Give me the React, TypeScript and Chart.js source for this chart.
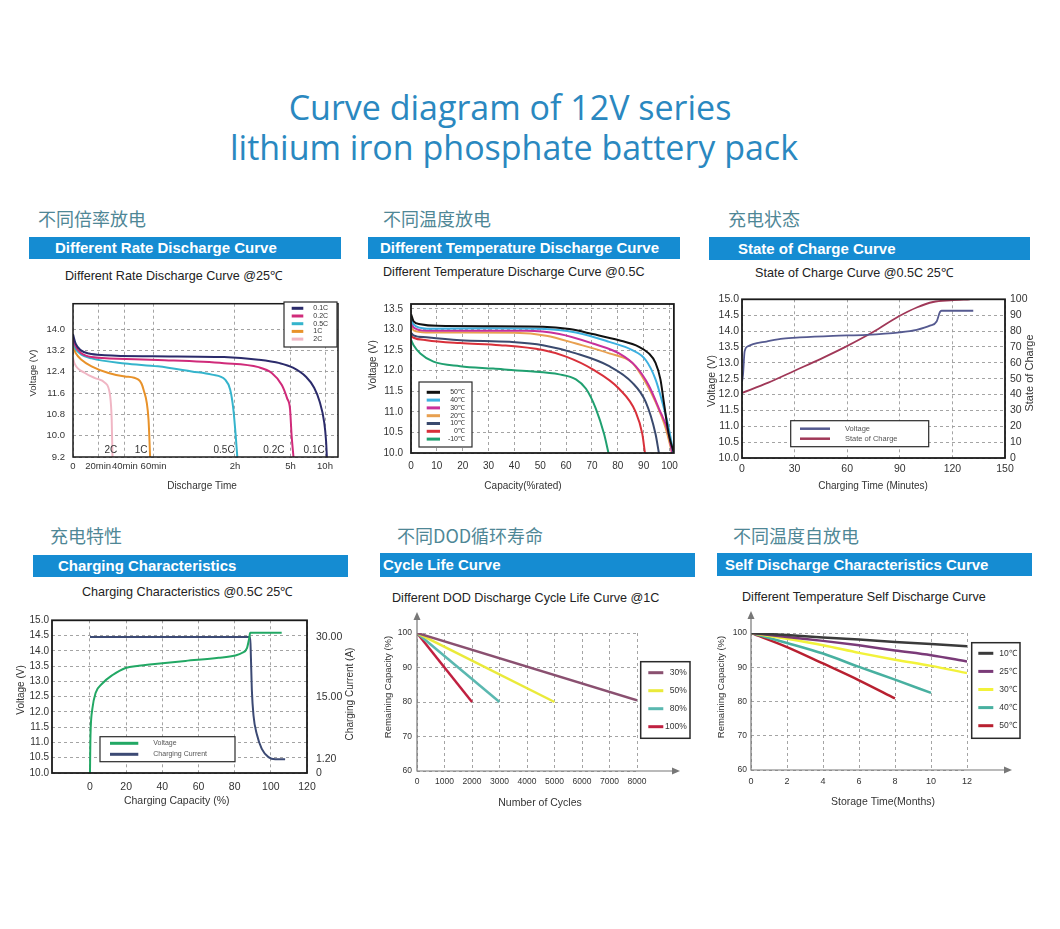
import React, { useEffect, useRef } from "react";
import { Chart, registerables } from "chart.js";

Chart.register(...registerables);

const FONT = "'Liberation Sans', Arial, Helvetica, sans-serif";
Chart.defaults.font.family = FONT;
Chart.defaults.color = "#333";

type Pt = [number, number];

// ---------------- Panel 1: Different Rate Discharge ----------------
const rateTickPos = [0, 9.5, 19.6, 30.4, 61.1, 82.1, 95.1];
const rateTickLabels = ["0", "20min", "40min", "60min", "2h", "5h", "10h"];
const rateVoltTicks = [9.2, 10.0, 10.8, 11.6, 12.4, 13.2, 14.0];
const rateNames = ["0.1C", "0.2C", "0.5C", "1C", "2C"];
const rateColors = ["#2b2b6b", "#d02b7a", "#35b4cc", "#e8922a", "#f0b6c4"];
const rate01C: Pt[] = [[0, 13.8], [1, 13.45], [3, 13.2], [6, 13.08], [12, 13.02], [30, 12.98], [57, 12.95], [70, 12.85], [78, 12.72], [83, 12.55], [88, 12.2], [91, 11.8], [93, 11.3], [94.8, 10.5], [95.5, 9.8], [95.8, 9.2]];
const rate02C: Pt[] = [[0, 13.65], [1, 13.35], [3, 13.1], [7, 12.95], [20, 12.88], [32, 12.84], [57, 12.72], [70, 12.57], [75, 12.35], [78.8, 11.9], [80.8, 11.4], [81.9, 11.0], [82.5, 10.0], [83.2, 9.2]];
const rate05C: Pt[] = [[0, 13.5], [1, 13.25], [3, 13.05], [7, 12.9], [19.6, 12.71], [32, 12.6], [44.8, 12.41], [52.4, 12.29], [57.4, 12.1], [59.3, 11.73], [60.5, 11.0], [61.4, 10.0], [62, 9.2]];
const rate1C: Pt[] = [[0, 13.35], [1, 13.1], [3.3, 12.84], [7, 12.6], [13.4, 12.35], [19.6, 12.22], [24.7, 12.1], [26.6, 11.73], [28.5, 10.6], [29.1, 9.2]];
const rate2C: Pt[] = [[0, 12.9], [0.6, 12.7], [4.5, 12.35], [8.3, 12.16], [12.1, 11.98], [14, 11.5], [14.6, 10.6], [14.9, 9.2]];
const rateEndLabels = ["2C", "1C", "0.5C", "0.2C", "0.1C"];
const rateEndLabelPos = [14.3, 25.7, 57, 75.8, 91];
const rateEndLabelVolt = 9.45;

// ---------------- Panel 2: Different Temperature Discharge ----------------
const capTicks = [0, 10, 20, 30, 40, 50, 60, 70, 80, 90, 100];
const tempVoltTicks = [10.0, 10.5, 11.0, 11.5, 12.0, 12.5, 13.0, 13.5];
const tempNames = ["50℃", "40℃", "30℃", "20℃", "10℃", "0℃", "-10℃"];
const tempColors = ["#111111", "#3db0e0", "#c8309c", "#e8a050", "#3a4a6e", "#d8303a", "#20a070"];
const temp50: Pt[] = [[0, 13.38], [1, 13.2], [3.6, 13.13], [10, 13.09], [30, 13.08], [51, 13.07], [61.3, 13.01], [70.3, 12.89], [80.5, 12.74], [88.2, 12.58], [92, 12.42], [94.6, 12.19], [96.5, 11.79], [97.8, 11.24], [99.7, 10.46], [101.7, 10.0]];
const temp40: Pt[] = [[0, 13.3], [1, 13.12], [6.2, 13.02], [30, 13.03], [50, 13.02], [63.8, 12.93], [76.7, 12.7], [85.6, 12.5], [90.8, 12.26], [94.6, 11.79], [97.2, 11.24], [99.7, 10.61], [101.5, 10.0]];
const temp30: Pt[] = [[0, 13.2], [1, 13.05], [6, 12.97], [44.6, 12.97], [57.4, 12.89], [70.3, 12.66], [80.5, 12.42], [86.9, 12.11], [92, 11.64], [95.9, 11.08], [99.7, 10.46], [101, 10.0]];
const temp20: Pt[] = [[0, 13.1], [1, 12.98], [6, 12.93], [40, 12.92], [52.3, 12.85], [63.8, 12.66], [76.7, 12.42], [85.6, 12.19], [90.8, 11.71], [94.6, 11.24], [98.5, 10.61], [101, 10.0]];
const temp10: Pt[] = [[0, 12.92], [1, 12.86], [6, 12.81], [19, 12.74], [38.2, 12.7], [51, 12.62], [63.8, 12.42], [76.7, 12.11], [85.6, 11.71], [90.8, 11.24], [94.6, 10.46], [95.9, 10.0]];
const temp0: Pt[] = [[0, 12.85], [1, 12.8], [6, 12.74], [19, 12.67], [34.4, 12.62], [51, 12.5], [60, 12.34], [70.3, 12.03], [80.5, 11.56], [86.9, 11.0], [89.5, 10.46], [90.5, 10.0]];
const tempM10: Pt[] = [[0, 12.75], [1, 12.62], [3.6, 12.42], [8.7, 12.22], [19, 12.11], [31.8, 12.05], [44.6, 11.99], [57.4, 11.91], [63.8, 11.79], [67.7, 11.56], [71.5, 11.08], [74.7, 10.46], [76.4, 10.0]];

// ---------------- Panel 3: State of Charge ----------------
const socTimeTicks = [0, 30, 60, 90, 120, 150];
const socVoltTicks = [10.0, 10.5, 11.0, 11.5, 12.0, 12.5, 13.0, 13.5, 14.0, 14.5, 15.0];
const socPctTicks = [0, 10, 20, 30, 40, 50, 60, 70, 80, 90, 100];
const socNames = ["Voltage", "State of Charge"];
const socColors = ["#555a90", "#a03858"];
const socVoltage: Pt[] = [[0, 12.4], [0.6, 12.64], [1.5, 13.36], [3.4, 13.52], [6.3, 13.59], [13.9, 13.67], [23.4, 13.76], [32.9, 13.8], [52, 13.85], [71, 13.88], [90, 13.96], [99.6, 14.04], [107.2, 14.17], [111, 14.3], [112.9, 14.6], [113.8, 14.64], [131.9, 14.64]];
const socState: Pt[] = [[0, 41], [15, 47.5], [30, 55], [45, 62.5], [59, 70], [75, 79.5], [89, 89], [100, 95], [109, 98.3], [119, 99.4], [130, 100]];

// ---------------- Panel 4: Charging Characteristics ----------------
const ccCapTicks = [0, 20, 40, 60, 80, 100, 120];
const ccVoltTicks = [10.0, 10.5, 11.0, 11.5, 12.0, 12.5, 13.0, 13.5, 14.0, 14.5, 15.0];
const ccCurrentTickAmps = [0, 1.2, 15, 30];
const ccCurrentTickLabels = ["0", "1.20", "15.00", "30.00"];
const ccCurrentTickLevel = [10.0, 10.45, 12.5, 14.45]; // non-linear right axis of the original
const ccNames = ["Voltage", "Charging Current"];
const ccColors = ["#22a864", "#3c4a74"];
const ccVoltage: Pt[] = [[0, 10.0], [0.2, 11.0], [0.4, 11.47], [1.3, 12.1], [3.1, 12.62], [6.8, 12.93], [12.3, 13.2], [19.7, 13.44], [27, 13.51], [34.4, 13.56], [52.8, 13.67], [71.1, 13.77], [80.3, 13.85], [84, 13.93], [86.8, 14.09], [88, 14.4], [88.6, 14.59], [106, 14.59]];
const ccCurrent: Pt[] = [[0, 30], [88.6, 30], [89, 24.8], [89.5, 16.7], [90.4, 10.9], [92.3, 6.65], [95, 3.49], [98.7, 1.67], [102.4, 1.2], [107.9, 1.2]];

// ---------------- Panel 5: Cycle Life ----------------
const cycleTicks = [0, 1000, 2000, 3000, 4000, 5000, 6000, 7000, 8000];
const remainTicks = [60, 70, 80, 90, 100];
const dodNames = ["30%", "50%", "80%", "100%"];
const dodColors = ["#8a5070", "#eaea3a", "#5ab8b0", "#c02040"];
const dod30: Pt[] = [[0, 100], [8000, 80.5]];
const dod50: Pt[] = [[0, 100], [5000, 80]];
const dod80: Pt[] = [[0, 100], [3000, 80]];
const dod100: Pt[] = [[0, 100], [2000, 80]];

// ---------------- Panel 6: Self Discharge ----------------
const monthTicks = [0, 2, 4, 6, 8, 10, 12];
const sdMonths = [0, 2, 4, 6, 8, 10, 12];
const sd10 = [100, 99.4, 98.7, 98.1, 97.4, 96.8, 96.1];
const sd25 = [100, 98.8, 97.7, 96.4, 94.9, 93.5, 91.7];
const sd30 = [100, 98.3, 96.4, 94.2, 92.2, 90.4, 88.3];
const sd40 = [100, 97.1, 94.0, 90.1, 86.4, 82.5];
const sd50 = [100, 95.9, 91.1, 86.2, 80.9];
const sdNames = ["10℃", "25℃", "30℃", "40℃", "50℃"];
const sdColors = ["#3a3a3a", "#7a3a78", "#f2f23a", "#48b0a0", "#b82030"];

// ---------------- helpers ----------------
const f1 = (v: number) => v.toFixed(1);

function ampsToLevel(a: number) {
  for (let i = 1; i < ccCurrentTickAmps.length; i++) {
    const a0 = ccCurrentTickAmps[i - 1], a1 = ccCurrentTickAmps[i];
    if (a <= a1 || i === ccCurrentTickAmps.length - 1) {
      const l0 = ccCurrentTickLevel[i - 1], l1 = ccCurrentTickLevel[i];
      return l0 + ((a - a0) / (a1 - a0)) * (l1 - l0);
    }
  }
  return ccCurrentTickLevel[0];
}

function line(label: string, color: string, pts: Pt[], width = 2, yAxisID = "y", smooth = true) {
  return {
    label,
    borderColor: color,
    backgroundColor: color,
    data: pts.map(([x, y]) => ({ x, y })),
    borderWidth: width,
    pointRadius: 0,
    fill: false,
    cubicInterpolationMode: smooth ? "monotone" : "default",
    tension: 0,
    yAxisID,
  };
}

function axis(o: any) {
  return {
    type: "linear",
    position: o.position,
    min: o.min,
    max: o.max,
    afterBuildTicks: (s: any) => {
      s.ticks = o.ticks.map((v: number) => ({ value: v }));
    },
    afterFit: (s: any) => {
      if (o.horizontal) s.height = o.fit;
      else s.width = o.fit;
    },
    ticks: {
      autoSkip: false,
      maxRotation: 0,
      minRotation: 0,
      padding: o.pad,
      color: "#333",
      font: { size: o.size, family: FONT },
      callback: (v: number, i: number) => (o.labels ? o.labels[i] : o.fmt ? o.fmt(v) : String(v)),
    },
    grid: { display: o.grid !== false, color: "#9a9a9a", lineWidth: 0.9, drawTicks: false },
    border: { display: false, dash: [3, 3] },
    title: { display: false },
  };
}

function baseOptions(pad: { top: number; right: number }, scales: any, plugins: any) {
  return {
    responsive: false,
    animation: false,
    events: [],
    layout: { padding: { top: pad.top, right: pad.right, left: 0, bottom: 0 } },
    plugins: { legend: { display: false }, tooltip: { enabled: false }, title: { display: false }, ...plugins },
    scales,
  };
}

// ---------------- plugins ----------------
const framePlugin = {
  id: "frame",
  afterDatasetsDraw(chart: any, _a: any, o: any) {
    const { ctx, chartArea: c } = chart;
    ctx.save();
    ctx.strokeStyle = o.color || "#1a1a1a";
    ctx.lineWidth = o.width || 1.6;
    ctx.strokeRect(c.left, c.top, c.right - c.left, c.bottom - c.top);
    ctx.restore();
  },
};

const arrowsPlugin = {
  id: "axisArrows",
  afterDatasetsDraw(chart: any, _a: any, o: any) {
    const { ctx, chartArea: c } = chart;
    const yTop = c.top - o.up;
    const xEnd = c.right + o.ext;
    ctx.save();
    ctx.strokeStyle = o.color;
    ctx.fillStyle = o.color;
    ctx.lineWidth = 1.2;
    ctx.beginPath();
    ctx.moveTo(c.left, yTop + 6);
    ctx.lineTo(c.left, c.bottom);
    ctx.lineTo(xEnd - 6, c.bottom);
    ctx.stroke();
    ctx.beginPath();
    ctx.moveTo(c.left, yTop);
    ctx.lineTo(c.left - 3.5, yTop + 8);
    ctx.lineTo(c.left + 3.5, yTop + 8);
    ctx.closePath();
    ctx.fill();
    ctx.beginPath();
    ctx.moveTo(xEnd, c.bottom);
    ctx.lineTo(xEnd - 8, c.bottom - 3.5);
    ctx.lineTo(xEnd - 8, c.bottom + 3.5);
    ctx.closePath();
    ctx.fill();
    ctx.restore();
  },
};

const boxLegendPlugin = {
  id: "boxLegend",
  afterDraw(chart: any, _a: any, o: any) {
    const { ctx } = chart;
    const [ox, oy] = o.origin;
    const [bx, by, bw, bh] = o.box;
    ctx.save();
    ctx.fillStyle = "#fff";
    ctx.fillRect(bx - ox, by - oy, bw, bh);
    ctx.strokeStyle = o.border || "#2a2a2a";
    ctx.lineWidth = o.borderWidth || 1.2;
    ctx.strokeRect(bx - ox, by - oy, bw, bh);
    ctx.font = `${o.size}px ${FONT}`;
    ctx.textBaseline = "middle";
    ctx.textAlign = o.align || "left";
    chart.data.datasets.forEach((ds: any, i: number) => {
      const yy = o.row0 + i * o.rowH - oy;
      ctx.strokeStyle = ds.borderColor;
      ctx.lineWidth = o.lw || 3;
      ctx.beginPath();
      ctx.moveTo(o.sx[0] - ox, yy);
      ctx.lineTo(o.sx[1] - ox, yy);
      ctx.stroke();
      ctx.fillStyle = o.textColor || "#333";
      ctx.fillText(ds.label, o.tx - ox, yy);
    });
    ctx.restore();
  },
};

const pageTextPlugin = {
  id: "pageTexts",
  afterDraw(chart: any, _a: any, o: any) {
    const { ctx } = chart;
    const [ox, oy] = o.origin;
    ctx.save();
    ctx.textAlign = "center";
    ctx.textBaseline = "middle";
    for (const it of o.items) {
      ctx.save();
      ctx.fillStyle = it.color || "#333";
      ctx.font = `${it.size}px ${FONT}`;
      ctx.translate(it.x - ox, it.y - oy);
      if (it.rot) ctx.rotate(-Math.PI / 2);
      ctx.fillText(it.t, 0, 0);
      ctx.restore();
    }
    ctx.restore();
  },
};

const curveTagPlugin = {
  id: "curveTags",
  afterDatasetsDraw(chart: any, _a: any, o: any) {
    const { ctx, scales } = chart;
    ctx.save();
    ctx.font = `${o.size}px ${FONT}`;
    ctx.fillStyle = "#333";
    ctx.textAlign = "center";
    ctx.textBaseline = "middle";
    o.labels.forEach((t: string, i: number) => {
      ctx.fillText(t, scales.x.getPixelForValue(o.xs[i]), scales.y.getPixelForValue(o.y));
    });
    ctx.restore();
  },
};

// ---------------- chart configs ----------------
const make1 = () => ({
  type: "line",
  data: {
    datasets: [
      line(rateNames[0], rateColors[0], rate01C),
      line(rateNames[1], rateColors[1], rate02C),
      line(rateNames[2], rateColors[2], rate05C),
      line(rateNames[3], rateColors[3], rate1C),
      line(rateNames[4], rateColors[4], rate2C),
    ],
  },
  options: baseOptions(
    { top: 9, right: 7 },
    {
      x: axis({ horizontal: true, min: 0, max: 100, ticks: rateTickPos, labels: rateTickLabels, size: 9.5, pad: 4, fit: 38 }),
      y: axis({ min: 9.2, max: 14.95, ticks: rateVoltTicks, fmt: f1, size: 9.5, pad: 8, fit: 48 }),
    },
    {
      frame: { width: 1.5 },
      curveTags: { labels: rateEndLabels, xs: rateEndLabelPos, y: rateEndLabelVolt, size: 10 },
      boxLegend: { origin: [25, 290], box: [284, 302, 53, 45], row0: 308.3, rowH: 7.7, sx: [291.7, 303.3], tx: 313.3, align: "left", size: 7, lw: 3 },
      pageTexts: {
        origin: [25, 290],
        items: [
          { t: "Voltage (V)", x: 33, y: 373, size: 9.5, rot: true },
          { t: "Discharge Time", x: 202, y: 486, size: 10 },
        ],
      },
    }
  ),
  plugins: [framePlugin, curveTagPlugin, boxLegendPlugin, pageTextPlugin],
});

const make2 = () => ({
  type: "line",
  data: {
    datasets: [
      line(tempNames[0], tempColors[0], temp50),
      line(tempNames[1], tempColors[1], temp40),
      line(tempNames[2], tempColors[2], temp30),
      line(tempNames[3], tempColors[3], temp20),
      line(tempNames[4], tempColors[4], temp10),
      line(tempNames[5], tempColors[5], temp0),
      line(tempNames[6], tempColors[6], tempM10),
    ],
  },
  options: baseOptions(
    { top: 9, right: 10 },
    {
      x: axis({ horizontal: true, min: 0, max: 101.7, ticks: capTicks, size: 10, pad: 7, fit: 42 }),
      y: axis({ min: 10, max: 13.62, ticks: tempVoltTicks, fmt: f1, size: 10, pad: 8, fit: 51 }),
    },
    {
      frame: { width: 1.8 },
      boxLegend: { origin: [360, 290], box: [419, 382, 53, 65], row0: 392.3, rowH: 7.8, sx: [426.7, 440], tx: 465, align: "right", size: 7, lw: 3 },
      pageTexts: {
        origin: [360, 290],
        items: [
          { t: "Voltage (V)", x: 373, y: 365, size: 10, rot: true },
          { t: "Capacity(%rated)", x: 523, y: 486, size: 10 },
        ],
      },
    }
  ),
  plugins: [framePlugin, boxLegendPlugin, pageTextPlugin],
});

const make3 = () => ({
  type: "line",
  data: {
    datasets: [
      line(socNames[0], socColors[0], socVoltage, 1.8, "y"),
      line(socNames[1], socColors[1], socState, 1.8, "y2"),
    ],
  },
  options: baseOptions(
    { top: 9, right: 0 },
    {
      x: axis({ horizontal: true, min: 0, max: 150, ticks: socTimeTicks, size: 10.5, pad: 5, fit: 37 }),
      y: axis({ min: 10, max: 15, ticks: socVoltTicks, fmt: f1, size: 10.5, pad: 3, fit: 42 }),
      y2: axis({ position: "right", min: 0, max: 100, ticks: socPctTicks, size: 10.5, pad: 5, fit: 45, grid: false }),
    },
    {
      frame: { width: 1.8 },
      boxLegend: { origin: [700, 288], box: [790.7, 420.7, 138, 26], row0: 428.7, rowH: 10, sx: [800, 830], tx: 845, align: "left", size: 7.5, lw: 2.5, textColor: "#555" },
      pageTexts: {
        origin: [700, 288],
        items: [
          { t: "Voltage (V)", x: 711.7, y: 381, size: 10.5, rot: true },
          { t: "State of Charge", x: 1030, y: 373, size: 11, rot: true },
          { t: "Charging Time (Minutes)", x: 873, y: 486, size: 10 },
        ],
      },
    }
  ),
  plugins: [framePlugin, boxLegendPlugin, pageTextPlugin],
});

const make4 = () => ({
  type: "line",
  data: {
    datasets: [
      line(ccNames[0], ccColors[0], ccVoltage, 2, "y"),
      line(ccNames[1], ccColors[1], ccCurrent.map(([c, a]) => [c, ampsToLevel(a)] as Pt), 2, "y2"),
    ],
  },
  options: baseOptions(
    { top: 9, right: 0 },
    {
      x: axis({ horizontal: true, min: -21, max: 120, ticks: ccCapTicks, size: 10.5, pad: 8, fit: 42 }),
      y: axis({ min: 10, max: 15, ticks: ccVoltTicks, fmt: f1, size: 10, pad: 3, fit: 42 }),
      y2: axis({ position: "right", min: 10, max: 15, ticks: ccCurrentTickLevel, labels: ccCurrentTickLabels, size: 10.5, pad: 9, fit: 53, grid: false }),
    },
    {
      frame: { width: 1.8 },
      boxLegend: { origin: [10, 605], box: [100, 736.7, 135, 25], row0: 743.3, rowH: 11, sx: [110, 138.3], tx: 153.3, align: "left", size: 7, lw: 3, textColor: "#555" },
      pageTexts: {
        origin: [10, 605],
        items: [
          { t: "Voltage (V)", x: 21.7, y: 690, size: 10, rot: true },
          { t: "Charging Current (A)", x: 350, y: 694, size: 10, rot: true },
          { t: "Charging Capacity (%)", x: 176.7, y: 801, size: 10.5 },
        ],
      },
    }
  ),
  plugins: [framePlugin, boxLegendPlugin, pageTextPlugin],
});

const make5 = () => ({
  type: "line",
  data: {
    datasets: [
      line(dodNames[0], dodColors[0], dod30, 2.5, "y", false),
      line(dodNames[1], dodColors[1], dod50, 2.5, "y", false),
      line(dodNames[2], dodColors[2], dod80, 2.5, "y", false),
      line(dodNames[3], dodColors[3], dod100, 2.5, "y", false),
    ],
  },
  options: baseOptions(
    { top: 33, right: 63 },
    {
      x: axis({ horizontal: true, min: 0, max: 8000, ticks: cycleTicks, size: 8.5, pad: 6, fit: 44 }),
      y: axis({ min: 60, max: 100, ticks: remainTicks, size: 8.5, pad: 5, fit: 47 }),
    },
    {
      axisArrows: { up: 21, ext: 43, color: "#777" },
      boxLegend: { origin: [370, 600], box: [640.7, 661.7, 49.3, 76.6], row0: 672.7, rowH: 18, sx: [648.3, 663.3], tx: 686.7, align: "right", size: 8.5, lw: 3, borderWidth: 1.5 },
      pageTexts: {
        origin: [370, 600],
        items: [
          { t: "Remaining Capacity (%)", x: 388.3, y: 687, size: 9.5, rot: true },
          { t: "Number of Cycles", x: 540, y: 802.7, size: 10.5 },
        ],
      },
    }
  ),
  plugins: [arrowsPlugin, boxLegendPlugin, pageTextPlugin],
});

const sdSeries = (vals: number[]): Pt[] => vals.map((v, i) => [sdMonths[i], v]);

const make6 = () => ({
  type: "line",
  data: {
    datasets: [
      line(sdNames[0], sdColors[0], sdSeries(sd10), 2.5),
      line(sdNames[1], sdColors[1], sdSeries(sd25), 2.5),
      line(sdNames[2], sdColors[2], sdSeries(sd30), 2.5),
      line(sdNames[3], sdColors[3], sdSeries(sd40), 2.5),
      line(sdNames[4], sdColors[4], sdSeries(sd50), 2.5),
    ],
  },
  options: baseOptions(
    { top: 33, right: 68 },
    {
      x: axis({ horizontal: true, min: 0, max: 12, ticks: monthTicks, size: 9, pad: 6, fit: 45 }),
      y: axis({ min: 60, max: 100, ticks: remainTicks, size: 8.5, pad: 4, fit: 46 }),
    },
    {
      axisArrows: { up: 22, ext: 45, color: "#777" },
      boxLegend: { origin: [705, 600], box: [971.7, 642.7, 48.3, 95.6], row0: 653.3, rowH: 18.1, sx: [978.3, 993.3], tx: 1016.7, align: "right", size: 8.5, lw: 3, borderWidth: 1.5 },
      pageTexts: {
        origin: [705, 600],
        items: [
          { t: "Remaining Capacity (%)", x: 721.7, y: 687, size: 9.5, rot: true },
          { t: "Storage Time(Months)", x: 883, y: 801.7, size: 10.5 },
        ],
      },
    }
  ),
  plugins: [arrowsPlugin, boxLegendPlugin, pageTextPlugin],
});

// ---------------- components ----------------
function ChartBox({ x, y, w, h, make }: { x: number; y: number; w: number; h: number; make: () => any }) {
  const ref = useRef<HTMLCanvasElement | null>(null);
  useEffect(() => {
    if (!ref.current) return;
    const chart = new Chart(ref.current, make() as any);
    return () => chart.destroy();
  }, []);
  return <canvas ref={ref} width={w} height={h} style={{ position: "absolute", left: x, top: y, width: w, height: h }} />;
}

const BAR_BLUE = "#158cd2";
const CN_COLOR = "#4f8796";

type Header = { cn: string; cnX: number; cnY: number; bar: [number, number, number, number]; barText: string; barTextX: number; sub: string; subX: number; subY: number };

const headers: Header[] = [
  { cn: "不同倍率放电", cnX: 38, cnY: 218, bar: [29, 237, 312, 22], barText: "Different Rate Discharge Curve", barTextX: 55, sub: "Different Rate Discharge Curve @25℃", subX: 65, subY: 276 },
  { cn: "不同温度放电", cnX: 383, cnY: 218, bar: [368, 237, 312, 22], barText: "Different Temperature Discharge Curve", barTextX: 380, sub: "Different Temperature Discharge Curve @0.5C", subX: 383, subY: 272 },
  { cn: "充电状态", cnX: 728, cnY: 218, bar: [709, 237, 321, 23], barText: "State of Charge Curve", barTextX: 738, sub: "State of Charge Curve @0.5C 25℃", subX: 755, subY: 273 },
  { cn: "充电特性", cnX: 50, cnY: 535, bar: [33, 555, 315, 22], barText: "Charging Characteristics", barTextX: 58, sub: "Charging Characteristics @0.5C 25℃", subX: 82, subY: 592 },
  { cn: "不同DOD循环寿命", cnX: 397, cnY: 535, bar: [380, 553, 315, 24], barText: "Cycle Life Curve", barTextX: 383, sub: "Different DOD Discharge Cycle Life Curve @1C", subX: 392, subY: 598 },
  { cn: "不同温度自放电", cnX: 733, cnY: 535, bar: [717, 553, 315, 23], barText: "Self Discharge Characteristics Curve", barTextX: 725, sub: "Different Temperature Self Discharge Curve", subX: 742, subY: 597 },
];

function PanelHeader({ h }: { h: Header }) {
  const [bx, by, bw, bh] = h.bar;
  return (
    <>
      <div style={{ position: "absolute", left: h.cnX, top: h.cnY - 11, height: 22, lineHeight: "22px", fontSize: 18, color: CN_COLOR, fontFamily: "'Noto Sans CJK SC', sans-serif", whiteSpace: "nowrap" }}>{h.cn}</div>
      <div style={{ position: "absolute", left: bx, top: by, width: bw, height: bh, background: BAR_BLUE }} />
      <div style={{ position: "absolute", left: h.barTextX, top: by, height: bh, lineHeight: `${bh}px`, fontSize: 15, fontWeight: 700, color: "#fff", fontFamily: FONT, whiteSpace: "nowrap" }}>{h.barText}</div>
      <div style={{ position: "absolute", left: h.subX, top: h.subY - 7, height: 14, lineHeight: "14px", fontSize: 12.6, color: "#222", fontFamily: FONT, whiteSpace: "nowrap" }}>{h.sub}</div>
    </>
  );
}

const titleStyle: React.CSSProperties = {
  position: "absolute",
  left: 0,
  width: 1028,
  textAlign: "center",
  fontFamily: "'Open Sans', sans-serif",
  fontSize: 34,
  lineHeight: "40px",
  color: "#2a88c0",
  whiteSpace: "nowrap",
};

export default function App() {
  return (
    <div style={{ position: "absolute", left: 0, top: 0, width: 1060, height: 929, background: "#fff", overflow: "hidden" }}>
      <div style={{ ...titleStyle, top: 87, width: 1020 }}>Curve diagram of 12V series</div>
      <div style={{ ...titleStyle, top: 127 }}>lithium iron phosphate battery pack</div>
      {headers.map((h, i) => (
        <PanelHeader key={i} h={h} />
      ))}
      <ChartBox x={25} y={290} w={320} h={205} make={make1} />
      <ChartBox x={360} y={290} w={325} h={205} make={make2} />
      <ChartBox x={700} y={288} w={350} h={207} make={make3} />
      <ChartBox x={10} y={605} w={350} h={210} make={make4} />
      <ChartBox x={370} y={600} w={330} h={215} make={make5} />
      <ChartBox x={705} y={600} w={330} h={215} make={make6} />
    </div>
  );
}
